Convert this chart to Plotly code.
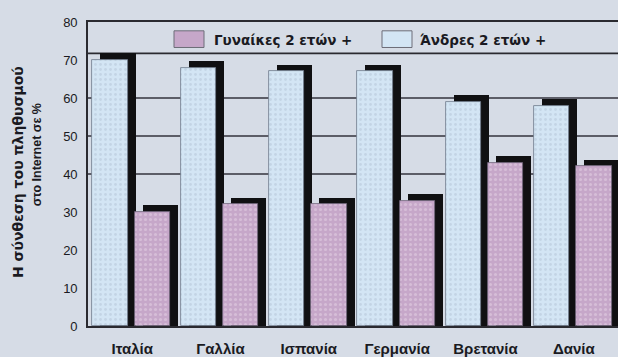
import plotly.graph_objects as go

countries = ["Ιταλία", "Γαλλία", "Ισπανία", "Γερμανία", "Βρετανία", "Δανία"]
men = [70, 68, 67, 67, 59, 58]        # Άνδρες 2 ετών +
women = [30, 32, 32, 33, 43, 42]      # Γυναίκες 2 ετών +
y_ticks = [0, 10, 20, 30, 40, 50, 60, 70, 80]
grid_levels = [40, 50, 60]

DEPTH = 1.8  # 3D shadow depth in value units
BG = "#d6dce6"
MEN_C = "#d3e5f4"
WOMEN_C = "#c6a7c9"
SHADOW = "#101012"
TXT = "#1a1a22"
FONT = "Liberation Sans, Arial, sans-serif"
WIDE = "DejaVu Sans, Verdana, sans-serif"

fig = go.Figure()

# shadows (drawn first, behind the faces)
fig.add_trace(go.Bar(x=countries, y=[v + DEPTH for v in men], offset=-0.36, width=0.4,
                     marker=dict(color=SHADOW, line=dict(width=0)), showlegend=False,
                     hoverinfo="skip"))
fig.add_trace(go.Bar(x=countries, y=[v + DEPTH for v in women], offset=0.12, width=0.4,
                     marker=dict(color=SHADOW, line=dict(width=0)), showlegend=False,
                     hoverinfo="skip"))
# faces
fig.add_trace(go.Bar(name="Άνδρες 2 ετών +", x=countries, y=men, offset=-0.45, width=0.4,
                     marker=dict(color=MEN_C, line=dict(width=0.8, color="#6f7a8a"),
                                 pattern=dict(shape=".", fgcolor="#b3c4d6", size=5, solidity=0.25)),
                     showlegend=False))
fig.add_trace(go.Bar(name="Γυναίκες 2 ετών +", x=countries, y=women, offset=0.03, width=0.4,
                     marker=dict(color=WOMEN_C, line=dict(width=0.8, color="#6f6478"),
                                 pattern=dict(shape=".", fgcolor="#e6d3e6", size=5, solidity=0.3)),
                     showlegend=False))

shapes = []
for g in grid_levels:
    shapes.append(dict(type="line", xref="paper", x0=0, x1=1, yref="y", y0=g, y1=g,
                       line=dict(color="#33333d", width=1.6), layer="below"))
W = 530.0
H = 310.0
def px(x):
    return (x - 88) / W
def py(y):
    return (332 - y) / H
# legend band bottom border
shapes.append(dict(type="line", xref="paper", x0=0, x1=1, yref="paper", y0=py(54), y1=py(54),
                   line=dict(color="#2a2a30", width=1.6), layer="below"))
# legend swatches
shapes.append(dict(type="rect", xref="paper", yref="paper", x0=px(174), x1=px(204),
                   y0=py(48), y1=py(31), fillcolor=WOMEN_C, line=dict(color="#6d6d78", width=1)))
shapes.append(dict(type="rect", xref="paper", yref="paper", x0=px(382), x1=px(412),
                   y0=py(48), y1=py(31), fillcolor=MEN_C, line=dict(color="#6d6d78", width=1)))

annotations = [
    dict(text="<b>Γυναίκες 2 ετών +</b>", xref="paper", yref="paper", x=px(212), y=py(40),
         xanchor="left", yanchor="middle", showarrow=False, font=dict(size=13.5, color=TXT, family=WIDE)),
    dict(text="<b>Άνδρες 2 ετών +</b>", xref="paper", yref="paper", x=px(418), y=py(40),
         xanchor="left", yanchor="middle", showarrow=False, font=dict(size=13.5, color=TXT, family=WIDE)),
    dict(text="<b>Η σύνθεση του πληθυσμού</b>", xref="paper", yref="paper", x=px(18), y=py(175),
         xanchor="center", yanchor="middle", textangle=-90, showarrow=False,
         font=dict(size=14, color=TXT, family=WIDE)),
    dict(text="<b>στο Internet σε %</b>", xref="paper", yref="paper", x=px(37), y=py(158),
         xanchor="center", yanchor="middle", textangle=-90, showarrow=False,
         font=dict(size=12.5, color=TXT, family=FONT)),
]

fig.update_layout(
    width=618, height=357,
    margin=dict(l=88, r=0, t=22, b=25),
    paper_bgcolor=BG, plot_bgcolor=BG,
    barmode="overlay", bargap=0,
    showlegend=False,
    shapes=shapes, annotations=annotations,
    font=dict(family=FONT, color=TXT),
)
fig.update_xaxes(type="category", range=[-0.5, 5.5], showgrid=False, zeroline=False,
                 showline=True, mirror=True, linecolor="#2a2a30", linewidth=1.6,
                 ticks="outside", ticklen=8, tickcolor="rgba(0,0,0,0)",
                 tickfont=dict(size=15, color=TXT, family=FONT),
                 tickprefix="<b>", ticksuffix="</b>")
fig.update_yaxes(range=[0, 80], tickvals=y_ticks, showgrid=False, zeroline=False,
                 showline=True, linecolor="#2a2a30", linewidth=1.6,
                 ticks="outside", ticklen=6, tickcolor="rgba(0,0,0,0)",
                 tickfont=dict(size=13, color=TXT, family=FONT),
                 tickprefix="<b>", ticksuffix="</b>")

fig.write_html("out.html")
